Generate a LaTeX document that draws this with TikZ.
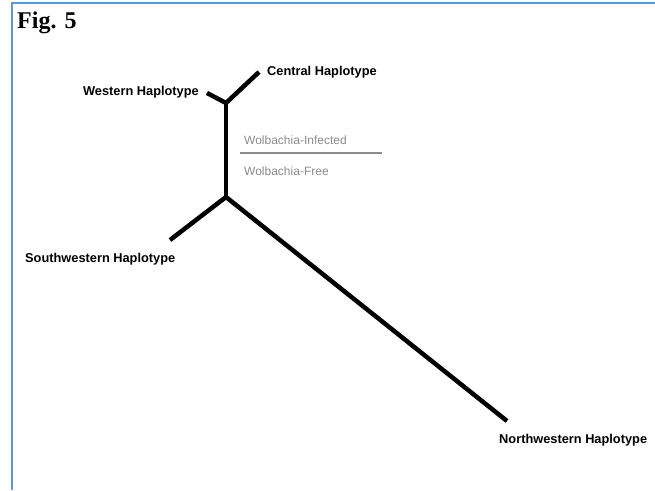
\documentclass[tikz,border=0pt]{standalone}
\usepackage{fontspec}
\setmainfont{Liberation Sans}
\newfontfamily\figserif{Liberation Serif}
\definecolor{framecol}{RGB}{95,150,210}
\definecolor{legcol}{RGB}{140,140,140}
\begin{document}
\begin{tikzpicture}[x=1pt,y=-1pt,
  branch/.style={line width=4.5pt,black},
  lbl/.style={font=\bfseries\fontsize{12.8}{15}\selectfont,inner sep=0pt},
  leg/.style={font=\fontsize{12}{14}\selectfont,text=legcol,inner sep=0pt,anchor=west},
  frame/.style={draw=framecol,line width=2pt}]
\useasboundingbox (0,0) rectangle (655,490);
\fill[white] (0,0) rectangle (655,490);
\draw[frame] (12,490) -- (12,3) -- (655,3);
\node[font=\figserif\bfseries\fontsize{24}{26}\selectfont,anchor=west,inner sep=0pt] (fig) at (17,23) {Fig. 5};
% tree
\coordinate (ju) at (226,103);
\coordinate (jl) at (226,197);
\coordinate (we) at (207,93);
\coordinate (ce) at (259,72);
\coordinate (sw) at (170,240);
\coordinate (nw) at (507,421);
\draw[branch] (we) -- (ju) -- (ce);
\draw[branch] (ju) -- (jl);
\draw[branch] (sw) -- (jl) -- (nw);
% labels
\node[lbl,anchor=east] (wl) at (199,92) {Western Haplotype};
\node[lbl,anchor=west] (cl) at (267,72) {Central Haplotype};
\node[lbl,anchor=west] (sl) at (25,259) {Southwestern Haplotype};
\node[lbl,anchor=west] (nl) at (499,440) {Northwestern Haplotype};
% legend
\coordinate (la) at (240,153);
\coordinate (lb) at (382,153);
\draw[line width=2.5pt,legcol] (la) -- (lb);
\node[leg] (inf) at (244,140) {Wolbachia-Infected};
\node[leg] (free) at (244,171) {Wolbachia-Free};
\end{tikzpicture}
\end{document}
